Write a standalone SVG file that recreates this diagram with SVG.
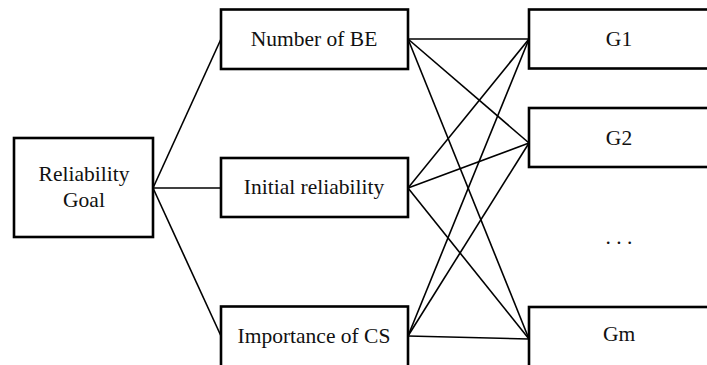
<svg xmlns="http://www.w3.org/2000/svg" width="707" height="365" viewBox="0 0 707 365">
<style>
.box{fill:#fff;stroke:#000;stroke-width:2.6}
text{font-family:'Liberation Serif','Times New Roman',Times,serif;font-size:21.5px;fill:#111;text-anchor:middle}
.con line{stroke:#000;stroke-width:1.6}
</style>
<rect width="707" height="365" fill="#fff"/>
<g id="connectors" class="con">
<line x1="153" y1="188" x2="221" y2="39"/>
<line x1="153" y1="188" x2="221" y2="188"/>
<line x1="153" y1="188" x2="221" y2="336"/>
<line x1="408" y1="39" x2="529" y2="39"/>
<line x1="408" y1="39" x2="529" y2="143"/>
<line x1="408" y1="39" x2="529" y2="339"/>
<line x1="408" y1="188" x2="529" y2="39"/>
<line x1="408" y1="188" x2="529" y2="143"/>
<line x1="408" y1="188" x2="529" y2="339"/>
<line x1="408" y1="336" x2="529" y2="39"/>
<line x1="408" y1="336" x2="529" y2="143"/>
<line x1="408" y1="336" x2="529" y2="339"/>
</g>
<g id="reliability-goal">
<rect class="box" x="14" y="138" width="139" height="99"/>
<text x="84" y="181" font-family="Liberation Serif, serif">Reliability</text>
<text x="84" y="207" font-family="Liberation Serif, serif">Goal</text>
</g>
<g id="number-of-be">
<rect class="box" x="221" y="9.5" width="187" height="59.5"/>
<text x="314" y="46" font-family="Liberation Serif, serif">Number of BE</text>
</g>
<g id="initial-reliability">
<rect class="box" x="221" y="158" width="187" height="59"/>
<text x="314" y="194" font-family="Liberation Serif, serif">Initial reliability</text>
</g>
<g id="importance-of-cs">
<rect class="box" x="221" y="306.5" width="187" height="70"/>
<text x="314" y="343" font-family="Liberation Serif, serif">Importance of CS</text>
</g>
<g id="g1">
<rect class="box" x="529" y="9.5" width="190" height="59"/>
<text x="619" y="46" font-family="Liberation Serif, serif">G1</text>
</g>
<g id="g2">
<rect class="box" x="529" y="108" width="190" height="59"/>
<text x="619" y="145" font-family="Liberation Serif, serif">G2</text>
</g>
<g id="dots">
<text x="619" y="244" font-family="Liberation Serif, serif">. . .</text>
</g>
<g id="gm">
<rect class="box" x="529" y="307" width="190" height="70"/>
<text x="619" y="341" font-family="Liberation Serif, serif">Gm</text>
</g>
</svg>
